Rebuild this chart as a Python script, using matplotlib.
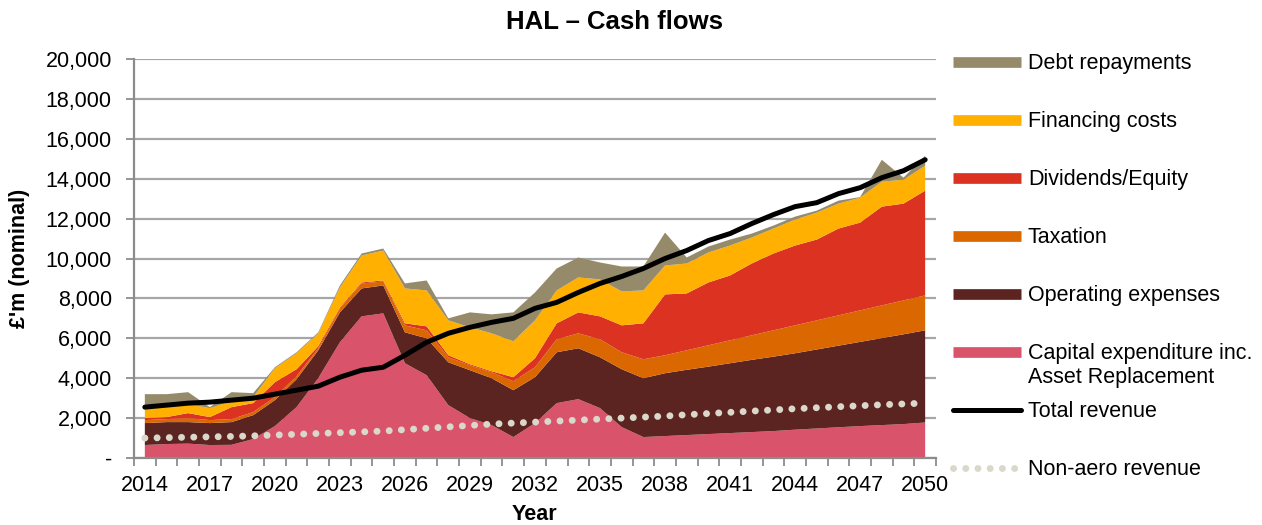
import matplotlib
matplotlib.use("Agg")
import matplotlib.pyplot as plt
import numpy as np
from matplotlib.lines import Line2D
from matplotlib.ticker import FuncFormatter

plt.rcParams["font.family"] = ["Liberation Sans", "DejaVu Sans"]

years = list(range(2014, 2051))

# stacked cash-flow components, £m (nominal), bottom to top
capex = [650, 700, 720, 650, 660, 950, 1600, 2550, 4000, 5800, 7100, 7250,
         4750, 4150, 2650, 2000, 1650, 1050, 1750, 2750, 2950, 2500, 1550,
         1050, 1100, 1150, 1200, 1250, 1300, 1350, 1420, 1480, 1540, 1600,
         1650, 1700, 1780]
opex = [1100, 1100, 1080, 1100, 1140, 1200, 1300, 1400, 1400, 1500, 1400, 1400,
        1550, 1850, 2150, 2400, 2350, 2350, 2300, 2550, 2550, 2550, 2900,
        2950, 3150, 3270, 3380, 3500, 3620, 3730, 3830, 3960, 4090, 4220,
        4360, 4500, 4620]
taxation = [150, 150, 200, 150, 150, 150, 150, 150, 100, 200, 250, 200,
            350, 400, 250, 250, 300, 450, 500, 650, 750, 900, 850,
            950, 900, 980, 1070, 1150, 1230, 1320, 1400, 1460, 1520, 1580,
            1640, 1700, 1750]
dividends = [100, 100, 250, 150, 600, 450, 750, 350, 100, 50, 50, 50,
             100, 200, 100, 50, 50, 200, 450, 800, 1050, 1150, 1350,
             1800, 3050, 2850, 3150, 3250, 3600, 3850, 4000, 4050, 4350, 4400,
             4950, 4850, 5250]
financing = [550, 550, 450, 450, 300, 300, 700, 800, 650, 1000, 1350, 1500,
             1750, 1800, 1750, 1850, 1900, 1800, 1900, 1650, 1750, 1850, 1700,
             1650, 1450, 1500, 1500, 1500, 1300, 1250, 1300, 1350, 1250, 1250,
             1250, 1200, 1250]
debt = [650, 600, 600, 50, 450, 200, 50, 50, 50, 100, 100, 100,
        250, 500, 100, 750, 950, 1450, 1400, 1100, 1000, 850, 1250,
        1200, 1650, 300, 300, 300, 200, 150, 150, 100, 150, 30,
        1100, 100, 500]

total_revenue = [2550, 2650, 2750, 2800, 2900, 3000, 3200, 3400, 3600, 4050,
                 4400, 4550, 5150, 5800, 6250, 6550, 6800, 7000, 7500, 7800,
                 8300, 8750, 9100, 9500, 10000, 10400, 10900, 11250, 11750,
                 12200, 12600, 12800, 13250, 13550, 14050, 14400, 14950]
non_aero_revenue = [1000, 1020, 1040, 1060, 1080, 1110, 1150, 1190, 1230, 1270,
                    1310, 1350, 1420, 1490, 1560, 1630, 1700, 1750, 1800, 1850,
                    1900, 1950, 2000, 2050, 2100, 2170, 2230, 2290, 2350, 2410,
                    2470, 2520, 2570, 2620, 2670, 2710, 2750]

labels = ["Capital expenditure inc.\nAsset Replacement", "Operating expenses",
          "Taxation", "Dividends/Equity", "Financing costs", "Debt repayments"]
colors = ["#D9536B", "#5C2421", "#DB6700", "#DC3222", "#FFB000", "#958B6B"]

W, H = 1262, 525
FS = 15.5
DOTS = (0, (0.01, 1.75))

fig = plt.figure(figsize=(W / 100, H / 100), dpi=100)
ax = fig.add_axes([134 / W, 1 - 458 / H, 802 / W, 399 / H])

ax.stackplot(years, capex, opex, taxation, dividends, financing, debt,
             colors=colors, linewidth=0, zorder=2)
ax.plot(years, non_aero_revenue, color="#DAD7CB", lw=5, ls=DOTS,
        dash_capstyle="round", zorder=3)
ax.plot(years, total_revenue, color="black", lw=3.6,
        solid_capstyle="round", zorder=4)

ax.set_xlim(2013.5, 2050.5)
ax.set_ylim(0, 20000)
ax.set_yticks(np.arange(0, 20001, 2000))
ax.yaxis.set_major_formatter(FuncFormatter(lambda v, p: "-" if v == 0 else f"{v:,.0f}"))
ax.set_xticks(range(2014, 2051, 3))
ax.set_xticks(np.arange(2013.5, 2051, 1), minor=True)
ax.tick_params(axis="x", which="major", length=0, pad=12, labelsize=FS)
ax.tick_params(axis="x", which="minor", length=6, width=1.3, color="#8C8C8C",
               direction="out")
ax.tick_params(axis="y", length=6, width=1.3, color="#8C8C8C", pad=10, labelsize=FS)
ax.grid(axis="y", color="#A6A6A6", lw=1.6, zorder=0)
ax.set_axisbelow(True)
for s in ["top", "right"]:
    ax.spines[s].set_visible(False)
for s in ["left", "bottom"]:
    ax.spines[s].set_color("#8C8C8C")
    ax.spines[s].set_linewidth(1.6)

ax.set_xlabel("Year", fontsize=FS, fontweight="bold", va="center")
ax.xaxis.set_label_coords((534 - 134) / 802, -(515 - 458) / 399)
ax.set_ylabel("£'m (nominal)", fontsize=FS, fontweight="bold", va="center")
ax.yaxis.set_label_coords(-(134 - 20) / 802, 0.5)
fig.text(614 / W, 1 - 22 / H, "HAL – Cash flows", ha="center", va="center",
         fontsize=18.5, fontweight="bold")

# legend drawn in pixel positions like the original
leg_handles = [dict(color=c, lw=7.7, solid_capstyle="butt") for c in colors[::-1]]
leg_handles += [dict(color="black", lw=3.6, solid_capstyle="round"),
                dict(color="#DAD7CB", lw=5, ls=DOTS, dash_capstyle="round")]
leg_labels = labels[::-1] + ["Total revenue", "Non-aero revenue"]
for i, (style, lab) in enumerate(zip(leg_handles, leg_labels)):
    yc = 62 + 58 * i
    fig.add_artist(Line2D([953 / W, 1021 / W], [1 - yc / H, 1 - yc / H],
                          transform=fig.transFigure, **style))
    fig.text(1028 / W, 1 - (yc - 9) / H, lab, ha="left", va="top",
             fontsize=FS, linespacing=1.2)

fig.savefig("out.png", dpi=100)
